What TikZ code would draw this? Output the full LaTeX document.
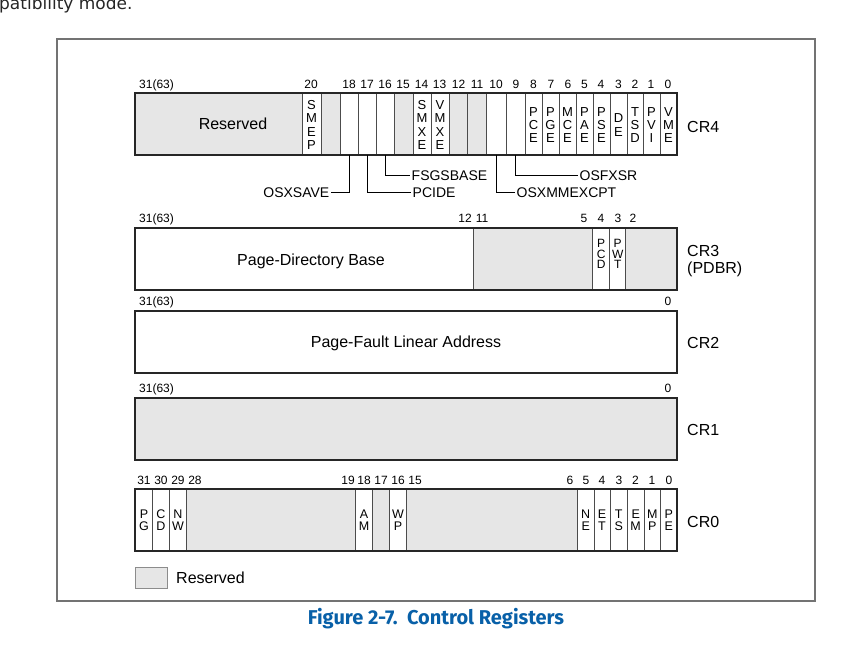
\documentclass[tikz,border=0pt]{standalone}
\usepackage{fontspec}
\setmainfont{Liberation Sans}
\newfontfamily\capfont{Fira Sans}
\newfontfamily\bodyfont{DejaVu Sans}
\definecolor{rsvgray}{RGB}{230,230,230}
\definecolor{capblue}{RGB}{8,96,168}
\begin{document}
\begin{tikzpicture}[x=1pt,y=-1pt,
	bitno/.style={inner sep=0,text height=8.6,text depth=0,font=\fontsize{12}{12}\selectfont},
	flag/.style={inner sep=0,align=center,font=\fontsize{13}{#1}\selectfont},
	flag/.default=13.3,
	lbl/.style={inner sep=1.5,text height=10,text depth=0,font=\fontsize{14}{14}\selectfont},
	big/.style={inner sep=0,align=left,font=\fontsize{16}{17}\selectfont},
	cell/.style={draw=black!70,line width=0.9},
	reg/.style={draw=black!85,line width=1.3},
	rsv/.style={fill=rsvgray}]
	\useasboundingbox (0,0) rectangle (844,646);
	\node[anchor=base west,inner sep=0,font=\bodyfont\fontsize{17}{17}\selectfont,text=black!85] (intro) at (-1,9) {patibility mode.};
	\draw[black!55,line width=1.5] (57,39) rectangle (815,601);%frame
	% CR4
	\fill[rsv] (135,93) rectangle (302,155);
	\foreach \a/\b in {321/340,394/413,449/486}
		\fill[rsv] (\a,93) rectangle (\b,155);
	\foreach \x in {302,321,340,358,376,394,413,431,449,467,486,506,525,542,559,576,593,610,627,643,660}
		\draw[cell] (\x,93) -- (\x,155);
	\draw[reg] (135,93) rectangle (677,155);
	\node[big,anchor=center] (cr4rsv) at (233,124) {Reserved};
	\foreach \x/\n/\t in {311.5/smep/{S\\M\\E\\P},422/smxe/{S\\M\\X\\E},440/vmxe/{V\\M\\X\\E},533.5/pce/{P\\C\\E},550.5/pge/{P\\G\\E},567.5/mce/{M\\C\\E},584.5/pae/{P\\A\\E},601.5/pse/{P\\S\\E},618.5/de/{D\\E},635/tsd/{T\\S\\D},651.5/pvi/{P\\V\\I},668.5/vme/{V\\M\\E}}
		\node[flag] (\n) at (\x,125) {\t};
	\node[bitno,anchor=west] (c4hi) at (139,84) {31(63)};
	\foreach \x/\b in {311/20,349/18,367/17,385/16,403/15,421.5/14,439.5/13,458.5/12,477/11,496/10,516/9,533.5/8,551/7,568/6,584.5/5,601/4,618.5/3,635/2,651/1,668/0}
		\node[bitno] (c4b\b) at (\x,84) {\b};
	\node[big,anchor=west] (cr4) at (687,127) {CR4};
	% CR4 flags below the register
	\foreach \x/\b in {349/18,367/17,385/16,496/10,515.5/9}
		\coordinate (bit\b) at (\x,155);
	\node[lbl,anchor=east] (osxsave) at (331,192) {OSXSAVE};
	\node[lbl,anchor=west] (pcide) at (411,192) {PCIDE};
	\node[lbl,anchor=west] (fsgsbase) at (410,175) {FSGSBASE};
	\node[lbl,anchor=west] (osxmmexcpt) at (515,192) {OSXMMEXCPT};
	\node[lbl,anchor=west] (osfxsr) at (578,175) {OSFXSR};
	\draw (osxsave.east) -| (bit18);
	\draw (bit17) |- (pcide.west);
	\draw (bit16) |- (fsgsbase.west);
	\draw (bit10) |- (osxmmexcpt.west);
	\draw (bit9) |- (osfxsr.west);
	% CR3
	\fill[rsv] (473.3,228) rectangle (592.7,290);
	\fill[rsv] (625.7,228) rectangle (677,290);
	\foreach \x in {473.3,592.7,609.7,625.7}
		\draw[cell] (\x,228) -- (\x,290);
	\draw[reg] (135,228) rectangle (677,290);
	\node[big] (pdb) at (311,261) {Page-Directory Base};
	\node[flag=10.5,font=\fontsize{12}{10.5}\selectfont] (pcd) at (601.2,254) {P\\C\\D};
	\node[flag=10.5,font=\fontsize{12}{10.5}\selectfont] (pwt) at (617.7,254) {P\\W\\T};
	\node[bitno,anchor=west] (c3hi) at (139,218) {31(63)};
	\foreach \x/\b in {465/12,482/11,584/5,601/4,618/3,633/2}
		\node[bitno] (c3b\b) at (\x,218) {\b};
	\node[big,anchor=west] (cr3) at (687,261) {CR3\\(PDBR)};
	% CR2
	\draw[reg] (135,311) rectangle (677,373);
	\node[big] (pfla) at (406,343) {Page-Fault Linear Address};
	\node[bitno,anchor=west] (c2hi) at (139,301) {31(63)};
	\node[bitno] (c2lo) at (668,301) {0};
	\node[big,anchor=west] (cr2) at (687,343) {CR2};
	% CR1
	\draw[reg,rsv] (135,398) rectangle (677,460);
	\node[bitno,anchor=west] (c1hi) at (139,388) {31(63)};
	\node[bitno] (c1lo) at (668,388) {0};
	\node[big,anchor=west] (cr1) at (687,430) {CR1};
	% CR0
	\foreach \a/\b in {186/355.7,372.3/389.3,406.3/577.3}
		\fill[rsv] (\a,489) rectangle (\b,551);
	\foreach \x in {152.7,169.3,186,355.7,372.3,389.3,406.3,577.3,594,610.3,627.3,644,660.7}
		\draw[cell] (\x,489) -- (\x,551);
	\draw[reg] (135,489) rectangle (677,551);
	\foreach \x/\n/\t in {144/pg/{P\\G},161/cd/{C\\D},178/nw/{N\\W},364/am/{A\\M},398/wp/{W\\P},585.7/ne/{N\\E},602/et/{E\\T},618.8/ts/{T\\S},635.7/em/{E\\M},652.3/mp/{M\\P},668.8/pe/{P\\E}}
		\node[flag=11.7,font=\fontsize{12.5}{11.7}\selectfont] (\n) at (\x,520) {\t};
	\foreach \x/\b in {144/31,161/30,178/29,195/28,348/19,364/18,381/17,398/16,415/15,570/6,586/5,602/4,619/3,635.5/2,652/1,669/0}
		\node[bitno] (c0b\b) at (\x,480) {\b};
	\node[big,anchor=west] (cr0) at (687,522) {CR0};
	% legend
	\draw[black!45,rsv] (135,567) rectangle (167,588);
	\node[big,anchor=west] (legend) at (176,578) {Reserved};
	% caption
	\node[text=capblue,font=\capfont\bfseries\fontsize{20}{20}\selectfont] (caption) at (436,619) {Figure 2-7.\ \ Control Registers};
\end{tikzpicture}
\end{document}
